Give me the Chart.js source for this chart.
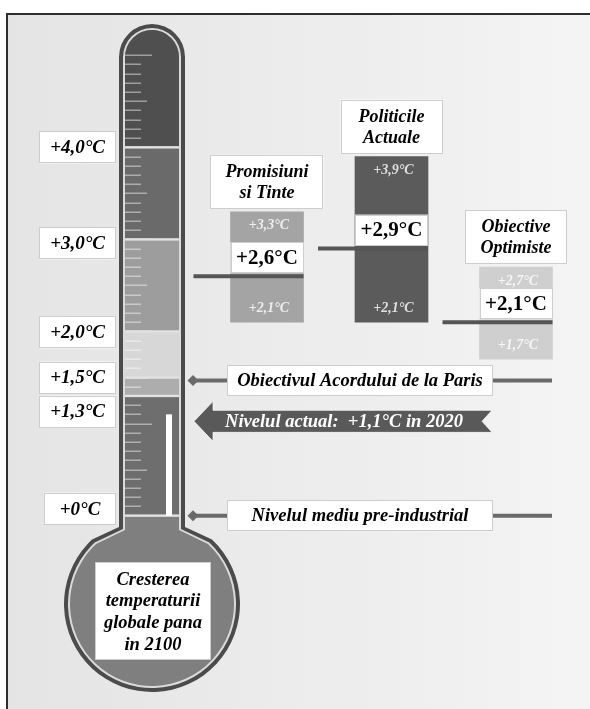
<!DOCTYPE html>
<html>
<head>
<meta charset="utf-8">
<script src="https://cdn.jsdelivr.net/npm/chart.js@4"></script>
<style>
  html, body { margin: 0; padding: 0; background: #fff; }
  canvas { display: block; }
</style>
</head>
<body>
<canvas id="thermo" width="590" height="709"></canvas>
<script>
/* ============================================
   DATA
============================================ */
const scenarioNames = [['Promisiuni', 'si Tinte'], ['Politicile', 'Actuale'], ['Obiective', 'Optimiste']];
const lowValues = [2.1, 2.1, 1.7];
const highValues = [3.3, 3.9, 2.7];
const medianValues = [2.6, 2.9, 2.1];

const thermoLevels = [0, 1.3, 1.5, 2.0, 3.0, 4.0];
const thermoLabels = ['+0°C', '+1,3°C', '+1,5°C', '+2,0°C', '+3,0°C', '+4,0°C'];

const currentLevel = 1.1;
const currentLabel = 'Nivelul actual:  +1,1°C in 2020';
const parisLevel = 1.5;
const parisLabel = 'Obiectivul Acordului de la Paris';
const preIndustrialLevel = 0;
const preIndustrialLabel = 'Nivelul mediu pre-industrial';
const bulbLines = ['Cresterea', 'temperaturii', 'globale pana', 'in 2100'];

/* ============================================
   STYLE
============================================ */
const SERIF = '"Liberation Serif", "Times New Roman", serif';
const barColors = ['#a4a4a4', '#5b5b5b', '#cfcfcf'];
const bandColors = ['#6e6e6e', '#adadad', '#d7d7d7', '#9d9d9d', '#6a6a6a', '#4f4f4f'];
const labelShift = [-7, 0, 0, 1, 4, 0];
const TH = { x: 152, halfW: 33, top: 24, bulbY: 604, bulbR: 88, neckY: 527, join: 0.75 };
const ANN = { lineStart: 193, boxLeft: 227, boxRight: 493, lineEnd: 552 };

const fmt = v => '+' + v.toFixed(1).replace('.', ',') + '°C';

function font(size, italic, bold) {
    return (italic ? 'italic ' : '') + (bold === false ? '' : 'bold ') + size + 'px ' + SERIF;
}

function whiteBox(ctx, x, y, w, h) {
    ctx.fillStyle = '#fff';
    ctx.fillRect(x, y, w, h);
    ctx.strokeStyle = '#cdcdcd';
    ctx.lineWidth = 1;
    ctx.strokeRect(Math.round(x) + 0.5, Math.round(y) + 0.5, Math.round(w) - 1, Math.round(h) - 1);
}

function label(ctx, str, x, y, f, color) {
    ctx.font = f;
    ctx.fillStyle = color;
    ctx.textAlign = 'center';
    ctx.textBaseline = 'middle';
    ctx.fillText(str, x, y);
}

function diamond(ctx, x, y, r) {
    ctx.beginPath();
    ctx.moveTo(x - r, y);
    ctx.lineTo(x, y - r);
    ctx.lineTo(x + r, y);
    ctx.lineTo(x, y + r);
    ctx.closePath();
    ctx.fill();
}

/* ============================================
   THERMOMETER SHAPE
============================================ */
function thermoPath(ctx, d) {
    const hw = TH.halfW - d, R = TH.bulbR - d, cy = TH.top + TH.halfW;
    const jx = R * Math.sin(TH.join), jy = TH.bulbY - R * Math.cos(TH.join);
    const ny = TH.neckY + d * 0.5;
    ctx.beginPath();
    ctx.moveTo(TH.x - hw, ny);
    ctx.lineTo(TH.x - hw, cy);
    ctx.arc(TH.x, cy, hw, Math.PI, 0);
    ctx.lineTo(TH.x + hw, ny);
    ctx.lineTo(TH.x + jx, jy);
    ctx.arc(TH.x, TH.bulbY, R, -Math.PI / 2 + TH.join, 3 * Math.PI / 2 - TH.join);
    ctx.lineTo(TH.x - hw, ny);
    ctx.closePath();
}

const backgroundPlugin = {
    id: 'background',
    beforeDraw(chart) {
        const ctx = chart.ctx, w = chart.width, h = chart.height;
        ctx.save();
        ctx.fillStyle = '#fff';
        ctx.fillRect(0, 0, w, h);
        const g = ctx.createLinearGradient(6, 0, w, 0);
        g.addColorStop(0, '#e4e4e4');
        g.addColorStop(1, '#f4f4f4');
        ctx.fillStyle = g;
        ctx.fillRect(6, 13, w - 6, h - 13);
        ctx.strokeStyle = '#2e2e2e';
        ctx.lineWidth = 2;
        ctx.beginPath();
        ctx.moveTo(7, h);
        ctx.lineTo(7, 14);
        ctx.lineTo(w, 14);
        ctx.stroke();
        ctx.restore();
    }
};

const thermoPlugin = {
    id: 'thermo',
    afterDatasetsDraw(chart) {
        const ctx = chart.ctx;
        const y = chart.scales.y;
        const py = v => y.getPixelForValue(v);
        const inner = TH.halfW - 6;
        ctx.save();

        // body
        thermoPath(ctx, 0); ctx.fillStyle = '#4b4b4b'; ctx.fill();
        thermoPath(ctx, 4); ctx.fillStyle = '#dadada'; ctx.fill();
        thermoPath(ctx, 6); ctx.fillStyle = '#7f7f7f'; ctx.fill();

        ctx.save();
        thermoPath(ctx, 6);
        ctx.clip();
        thermoLevels.forEach((lo, i) => {
            const hi = i + 1 < thermoLevels.length ? thermoLevels[i + 1] : y.max;
            ctx.fillStyle = bandColors[i];
            ctx.fillRect(TH.x - inner, py(hi), inner * 2, py(lo) - py(hi));
        });
        // ticks every 0.1
        ctx.strokeStyle = 'rgba(255,255,255,0.45)';
        ctx.lineWidth = 1.5;
        for (let k = 1; k <= 50; k++) {
            const len = k % 10 === 0 ? 27 : (k % 5 === 0 ? 22 : 16);
            const ty = Math.round(py(k / 10)) + 0.25;
            ctx.beginPath();
            ctx.moveTo(TH.x - inner, ty);
            ctx.lineTo(TH.x - inner + len, ty);
            ctx.stroke();
        }
        // band separators
        ctx.fillStyle = '#e2e2e2';
        thermoLevels.forEach(v => {
            ctx.fillRect(TH.x - inner, py(v) - 1.2, inner * 2, 2.4);
        });
        ctx.restore();

        // current level (mercury)
        ctx.fillStyle = '#fff';
        ctx.fillRect(TH.x + 14, py(currentLevel), 6, py(0) - py(currentLevel));

        // level labels on the left
        let prevBottom = -Infinity;
        const order = thermoLevels.map((v, i) => i).sort((a, b) => thermoLevels[b] - thermoLevels[a]);
        order.forEach(i => {
            ctx.font = font(19, true);
            const tw = ctx.measureText(thermoLabels[i]).width;
            const bw = Math.max(72, tw + 22), bh = 32;
            let top = py(thermoLevels[i]) - bh / 2 + labelShift[i];
            if (top < prevBottom + 2) top = prevBottom + 2;
            prevBottom = top + bh;
            const right = TH.x - TH.halfW - 3;
            whiteBox(ctx, right - bw, top, bw, bh);
            label(ctx, thermoLabels[i], right - bw / 2, top + bh / 2 + 1, font(19, true), '#000');
        });

        // bulb caption
        whiteBox(ctx, TH.x - 57, TH.bulbY - 42, 116, 98);
        bulbLines.forEach((s, i) => {
            label(ctx, s, TH.x + 1, TH.bulbY - 24 + i * 21.7, font(18.5, true), '#000');
        });

        ctx.restore();
    }
};

const annotationPlugin = {
    id: 'annotations',
    afterDatasetsDraw(chart) {
        const ctx = chart.ctx;
        const y = chart.scales.y;
        const meta = chart.getDatasetMeta(0);
        ctx.save();

        // scenario medians, range labels and titles
        meta.data.forEach((bar, i) => {
            const left = bar.x - bar.width / 2, right = bar.x + bar.width / 2;
            const top = Math.min(bar.y, bar.base), bottom = Math.max(bar.y, bar.base);
            const my = y.getPixelForValue(medianValues[i]);

            label(ctx, fmt(highValues[i]), bar.x + 2, top + 14, font(14, true), 'rgba(255,255,255,0.8)');
            label(ctx, fmt(lowValues[i]), bar.x + 2, bottom - 14, font(14, true), 'rgba(255,255,255,0.8)');

            whiteBox(ctx, left, my - 34, right - left, 31);
            label(ctx, fmt(medianValues[i]), bar.x, my - 18, font(21, false), '#000');

            ctx.strokeStyle = '#555';
            ctx.lineWidth = 4;
            ctx.beginPath();
            ctx.moveTo(left - 37, my);
            ctx.lineTo(right, my);
            ctx.stroke();

            ctx.font = font(18, true);
            const tw = Math.max(...scenarioNames[i].map(s => ctx.measureText(s).width));
            const bw = Math.max(102, tw + 30), bh = 54;
            whiteBox(ctx, bar.x - bw / 2, top - 3 - bh, bw, bh);
            scenarioNames[i].forEach((s, j) => {
                label(ctx, s, bar.x, top - 3 - bh / 2 + (j - 0.5) * 21 + 1, font(18, true), '#000');
            });
        });

        // reference lines with diamonds
        [[parisLevel, parisLabel, 3], [preIndustrialLevel, preIndustrialLabel, 0]].forEach(([v, txt, dy]) => {
            const ly = y.getPixelForValue(v) + dy;
            ctx.strokeStyle = '#6a6a6a';
            ctx.fillStyle = '#6a6a6a';
            ctx.lineWidth = 4;
            ctx.beginPath();
            ctx.moveTo(ANN.lineStart, ly);
            ctx.lineTo(ANN.lineEnd, ly);
            ctx.stroke();
            diamond(ctx, ANN.lineStart, ly, 5.5);
            whiteBox(ctx, ANN.boxLeft, ly - 15.5, ANN.boxRight - ANN.boxLeft, 31);
            label(ctx, txt, (ANN.boxLeft + ANN.boxRight) / 2, ly + 1, font(18.5, true), '#000');
        });

        // current level arrow
        const ay = y.getPixelForValue(currentLevel) + 7;
        const tip = ANN.lineStart + 1, head = tip + 19, end = ANN.boxRight - 1;
        ctx.beginPath();
        ctx.moveTo(tip, ay);
        ctx.lineTo(head, ay - 20);
        ctx.lineTo(head, ay - 11);
        ctx.lineTo(end, ay - 11);
        ctx.lineTo(end - 10, ay);
        ctx.lineTo(end, ay + 11);
        ctx.lineTo(head, ay + 11);
        ctx.lineTo(head, ay + 20);
        ctx.closePath();
        ctx.fillStyle = '#595959';
        ctx.fill();
        ctx.strokeStyle = 'rgba(255,255,255,0.7)';
        ctx.lineWidth = 1;
        ctx.stroke();
        label(ctx, currentLabel, 344, ay + 1, font(18.5, true), '#fff');

        ctx.restore();
    }
};

/* ============================================
   CHART
============================================ */
new Chart(document.getElementById('thermo').getContext('2d'), {
    type: 'bar',
    data: {
        labels: scenarioNames,
        datasets: [{
            data: lowValues.map((lo, i) => [lo, highValues[i]]),
            backgroundColor: barColors,
            borderWidth: 0,
            barThickness: 73
        }]
    },
    options: {
        responsive: false,
        animation: false,
        layout: { padding: { left: 204.75, right: 11.75, top: 0, bottom: 0 } },
        plugins: {
            legend: { display: false },
            tooltip: { enabled: false }
        },
        scales: {
            x: { display: false, offset: true },
            y: { display: false, min: -2.1, max: 5.6 }
        }
    },
    plugins: [backgroundPlugin, thermoPlugin, annotationPlugin]
});
</script>
</body>
</html>
